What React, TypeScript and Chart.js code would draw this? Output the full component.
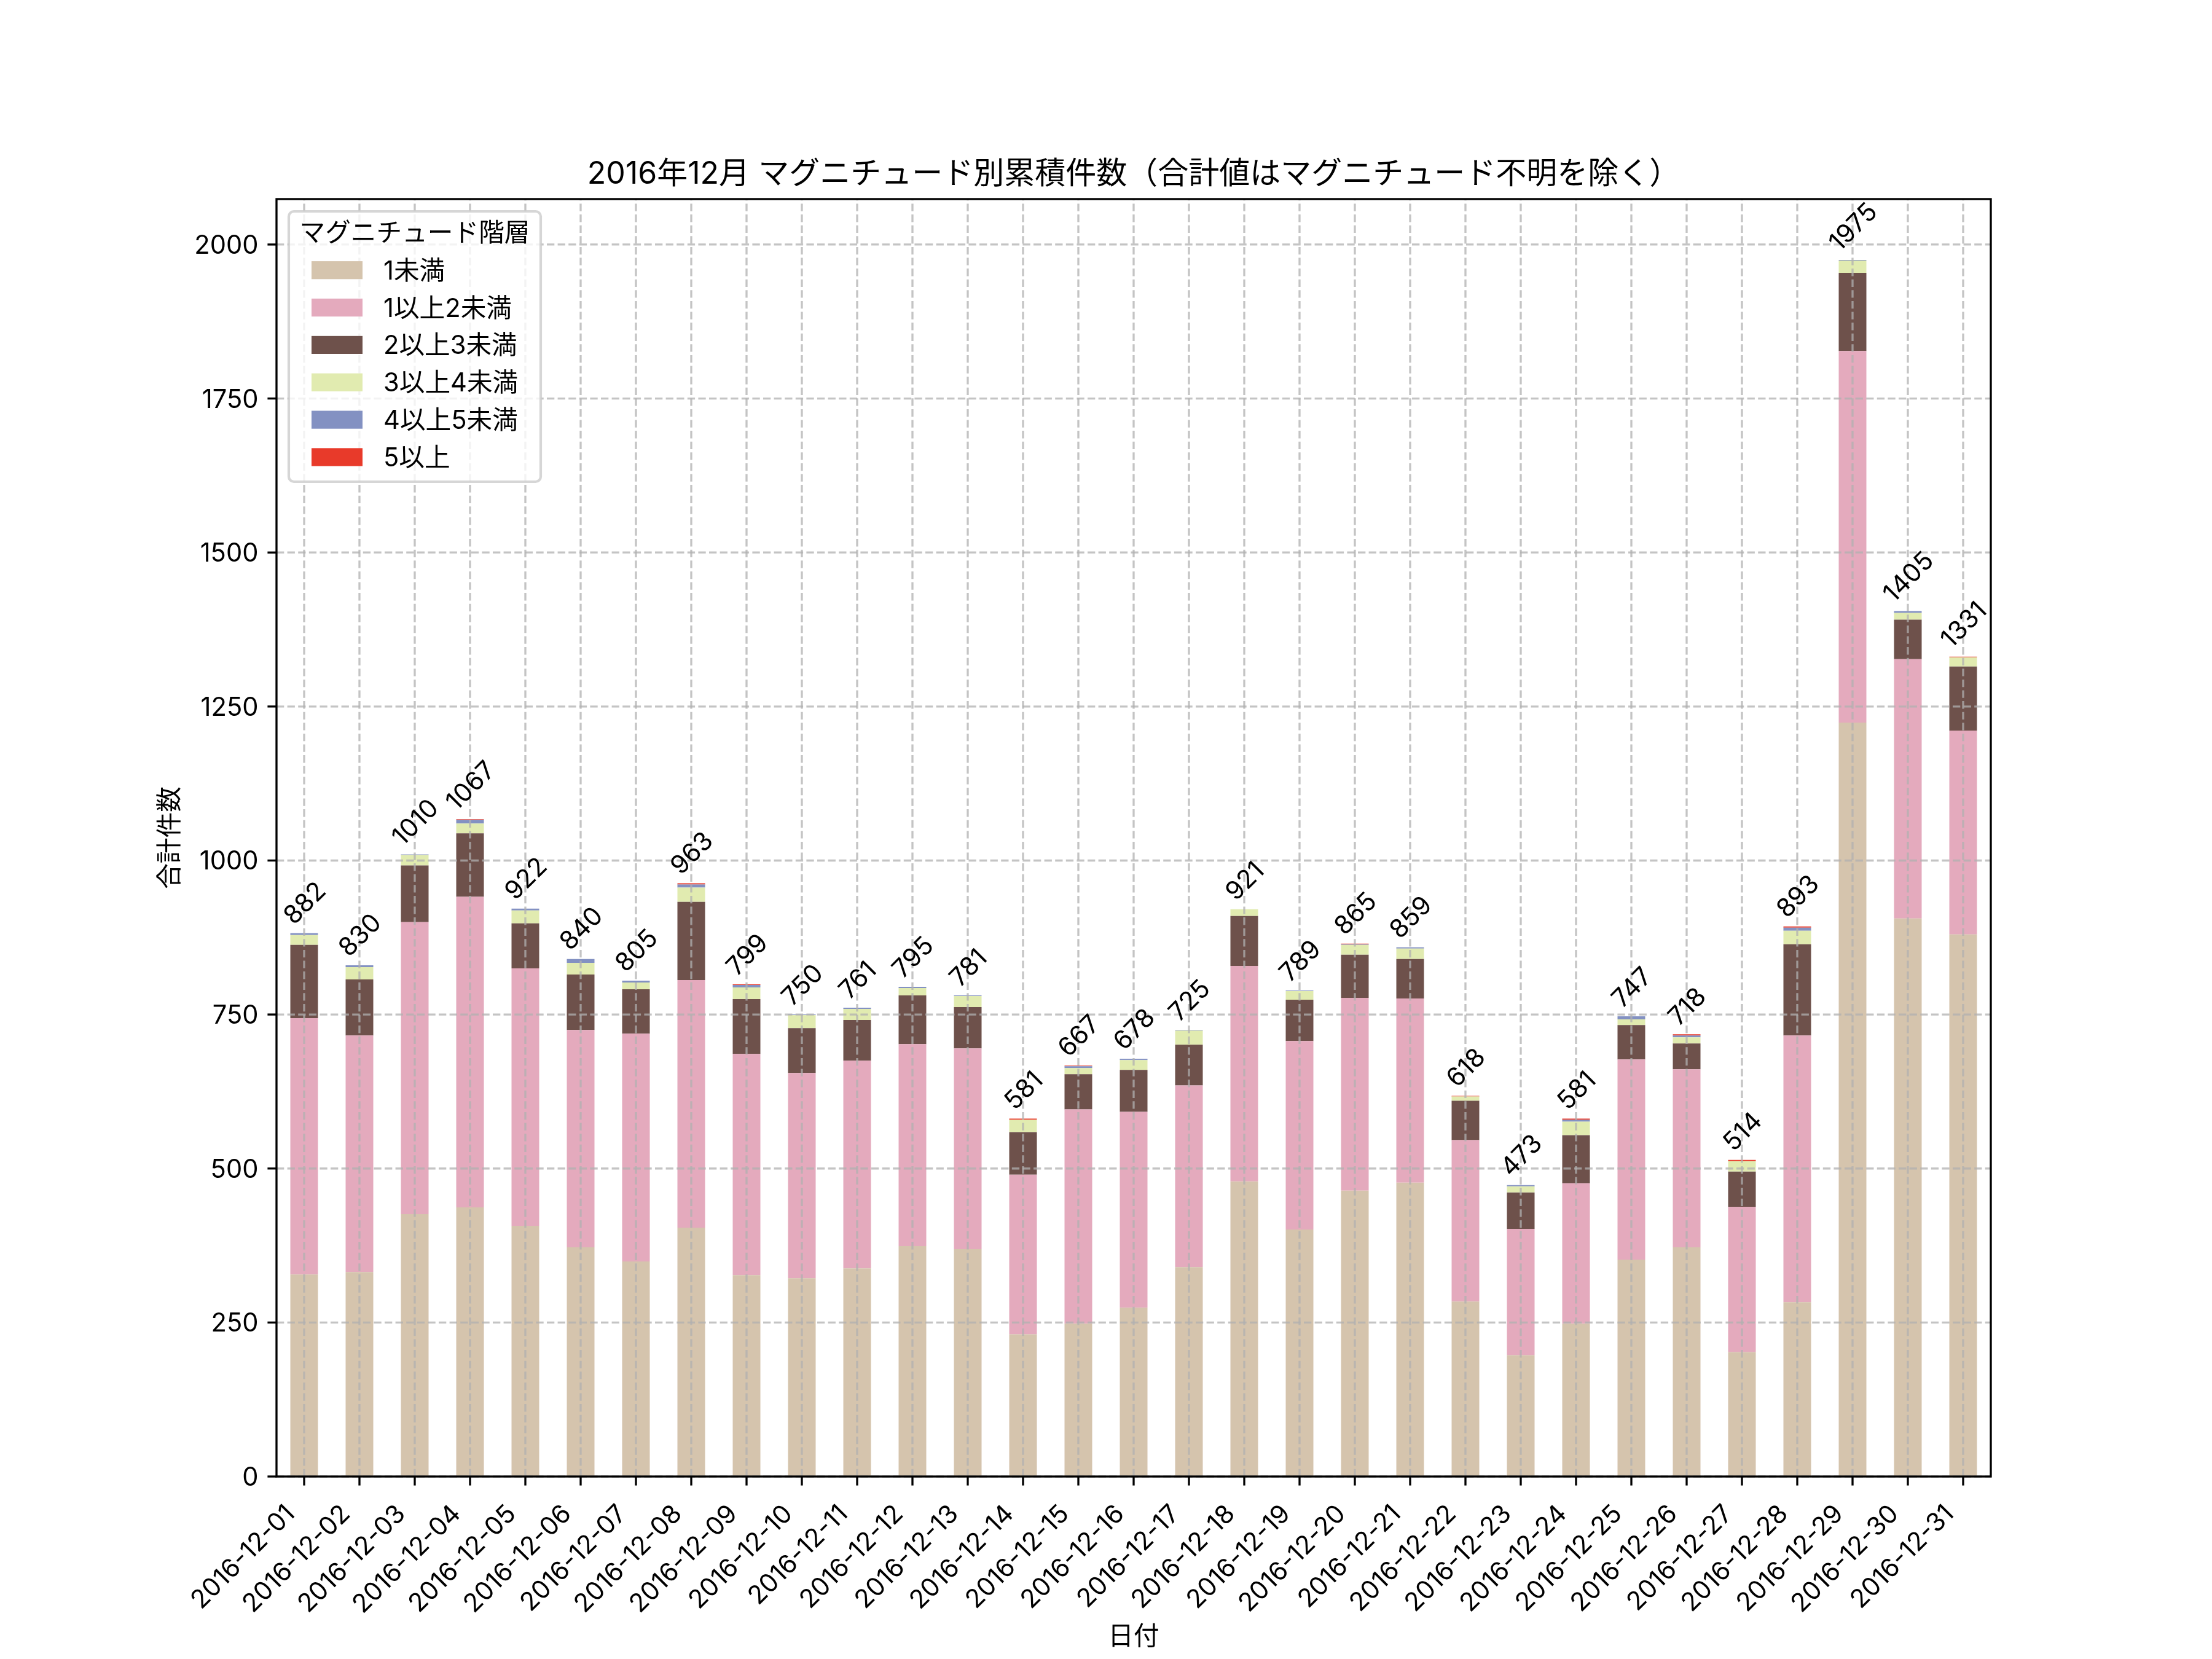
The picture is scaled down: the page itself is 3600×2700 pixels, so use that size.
import React, { useEffect, useRef } from "react";
import { Chart, registerables } from "chart.js";

Chart.register(...registerables);

// ---------------- data ----------------
const dates = [
  "2016-12-01", "2016-12-02", "2016-12-03", "2016-12-04", "2016-12-05", "2016-12-06", "2016-12-07", "2016-12-08",
  "2016-12-09", "2016-12-10", "2016-12-11", "2016-12-12", "2016-12-13", "2016-12-14", "2016-12-15", "2016-12-16",
  "2016-12-17", "2016-12-18", "2016-12-19", "2016-12-20", "2016-12-21", "2016-12-22", "2016-12-23", "2016-12-24",
  "2016-12-25", "2016-12-26", "2016-12-27", "2016-12-28", "2016-12-29", "2016-12-30", "2016-12-31",
];

const magLt1 = [328, 332, 426, 437, 407, 372, 349, 404, 327, 322, 338, 374, 369, 231, 248, 274, 340, 479, 401, 464, 477, 284, 197, 248, 352, 372, 202, 283, 1224, 906, 880];
const mag1to2 = [416, 384, 474, 504, 418, 353, 370, 402, 359, 333, 337, 328, 326, 259, 348, 318, 295, 350, 306, 313, 299, 262, 205, 228, 325, 289, 236, 433, 603, 421, 331];
const mag2to3 = [119, 91, 92, 103, 73, 90, 72, 127, 89, 73, 66, 79, 67, 69, 57, 68, 66, 81, 67, 70, 64, 64, 59, 78, 56, 42, 57, 148, 127, 64, 104];
const mag3to4 = [16, 20, 17, 16, 21, 19, 11, 23, 19, 21, 18, 12, 18, 20, 10, 16, 23, 11, 14, 16, 17, 7, 10, 22, 9, 10, 17, 22, 20, 11, 15];
const mag4to5 = [3, 3, 1, 6, 3, 6, 3, 5, 4, 1, 2, 2, 1, 0, 3, 2, 1, 0, 1, 1, 2, 0, 2, 3, 5, 3, 0, 5, 1, 3, 0];
const mag5up = [0, 0, 0, 1, 0, 0, 0, 2, 1, 0, 0, 0, 0, 2, 1, 0, 0, 0, 0, 1, 0, 1, 0, 2, 0, 2, 2, 2, 0, 0, 1];

const seriesNames = ["1未満", "1以上2未満", "2以上3未満", "3以上4未満", "4以上5未満", "5以上"];
const seriesColors = ["#d5c4ad", "#e4aabd", "#6e514b", "#e1ebb0", "#8391c2", "#e83a2a"];
const yTickValues = [0, 250, 500, 750, 1000, 1250, 1500, 1750, 2000];
const yMax = 2073.75;

const titleText = "2016年12月 マグニチュード別累積件数（合計値はマグニチュード不明を除く）";
const xAxisLabel = "日付";
const yAxisLabel = "合計件数";
const legendTitle = "マグニチュード階層";

// ---------------- layout ----------------
const W = 3600;
const H = 2700;
const PLOT_L = 450;
const PLOT_R = 3240;
const PLOT_T = 324;
const PLOT_B = 2403;
const FONT = 'Inter, "Noto Sans CJK JP", "Noto Sans", sans-serif';
const FS = 41.67;
const LW = 3.33;

const allSeries = [magLt1, mag1to2, mag2to3, mag3to4, mag4to5, mag5up];

function line(ctx: CanvasRenderingContext2D, x1: number, y1: number, x2: number, y2: number) {
  ctx.beginPath();
  ctx.moveTo(x1, y1);
  ctx.lineTo(x2, y2);
  ctx.stroke();
}

function roundRect(ctx: CanvasRenderingContext2D, x: number, y: number, w: number, h: number, r: number) {
  ctx.beginPath();
  ctx.moveTo(x + r, y);
  ctx.lineTo(x + w - r, y);
  ctx.arcTo(x + w, y, x + w, y + r, r);
  ctx.lineTo(x + w, y + h - r);
  ctx.arcTo(x + w, y + h, x + w - r, y + h, r);
  ctx.lineTo(x + r, y + h);
  ctx.arcTo(x, y + h, x, y + h - r, r);
  ctx.lineTo(x, y + r);
  ctx.arcTo(x, y, x + r, y, r);
  ctx.closePath();
}

const overlayPlugin = {
  id: "overlay",
  afterDatasetsDraw(chart: any) {
    const ctx: CanvasRenderingContext2D = chart.ctx;
    const xs = chart.scales.x;
    const ys = chart.scales.y;
    const ca = chart.chartArea;
    ctx.save();

    // grid (drawn above bars, like the reference)
    ctx.strokeStyle = "rgba(176,176,176,0.75)";
    ctx.lineWidth = LW;
    ctx.setLineDash([12.3, 5.3]);
    for (const v of yTickValues) {
      const py = ys.getPixelForValue(v);
      line(ctx, ca.left, py, ca.right, py);
    }
    for (let i = 0; i < dates.length; i++) {
      const px = xs.getPixelForValue(i);
      line(ctx, px, ca.bottom, px, ca.top);
    }
    ctx.setLineDash([]);

    // spines
    ctx.strokeStyle = "#000";
    ctx.lineWidth = LW;
    ctx.strokeRect(ca.left, ca.top, ca.right - ca.left, ca.bottom - ca.top);

    // ticks
    for (const v of yTickValues) {
      const py = ys.getPixelForValue(v);
      line(ctx, ca.left, py, ca.left - 14.6, py);
    }
    for (let i = 0; i < dates.length; i++) {
      const px = xs.getPixelForValue(i);
      line(ctx, px, ca.bottom, px, ca.bottom + 14.6);
    }

    ctx.fillStyle = "#000";
    ctx.font = `${FS}px ${FONT}`;

    // y tick labels
    ctx.textAlign = "right";
    ctx.textBaseline = "alphabetic";
    for (const v of yTickValues) {
      const py = ys.getPixelForValue(v);
      ctx.fillText(String(v), ca.left - 29.5, py + 15);
    }

    // x tick labels (rotated 45°)
    for (let i = 0; i < dates.length; i++) {
      const px = xs.getPixelForValue(i);
      ctx.save();
      ctx.translate(px - 13, ca.bottom + 63);
      ctx.rotate(-Math.PI / 4);
      ctx.textAlign = "right";
      ctx.textBaseline = "alphabetic";
      ctx.fillText(dates[i], 0, 0);
      ctx.restore();
    }

    // total labels above bars
    for (let i = 0; i < dates.length; i++) {
      let total = 0;
      for (const s of allSeries) total += s[i];
      const px = xs.getPixelForValue(i);
      const py = ys.getPixelForValue(total);
      const txt = String(total);
      const w = ctx.measureText(txt).width;
      const gh = 30;
      const bb = (w + gh) * Math.SQRT1_2;
      ctx.save();
      ctx.translate(px, py - 12 - bb / 2);
      ctx.rotate(-Math.PI / 4);
      ctx.textAlign = "center";
      ctx.textBaseline = "alphabetic";
      ctx.fillText(txt, 0, gh / 2);
      ctx.restore();
    }

    // axis labels
    ctx.textAlign = "center";
    ctx.textBaseline = "middle";
    ctx.fillText(xAxisLabel, (ca.left + ca.right) / 2, 2664);
    ctx.save();
    ctx.translate(277, (ca.top + ca.bottom) / 2);
    ctx.rotate(-Math.PI / 2);
    ctx.fillText(yAxisLabel, 0, 0);
    ctx.restore();

    // title
    ctx.font = `50px ${FONT}`;
    ctx.textAlign = "center";
    ctx.textBaseline = "alphabetic";
    ctx.fillText(titleText, (ca.left + ca.right) / 2, ca.top - 25);

    // legend
    const lx = 470, ly = 344, lw = 410, lh = 440;
    roundRect(ctx, lx, ly, lw, lh, 8.3);
    ctx.fillStyle = "rgba(255,255,255,0.8)";
    ctx.fill();
    ctx.strokeStyle = "rgba(204,204,204,0.8)";
    ctx.lineWidth = 4.17;
    ctx.stroke();

    ctx.fillStyle = "#000";
    ctx.font = `${FS}px ${FONT}`;
    ctx.textAlign = "center";
    ctx.textBaseline = "alphabetic";
    ctx.fillText(legendTitle, lx + lw / 2, 378 + 15);

    ctx.textAlign = "left";
    for (let k = 0; k < seriesNames.length; k++) {
      const cy = 439.7 + k * 60.85;
      ctx.fillStyle = seriesColors[k];
      ctx.fillRect(507, cy - 14.6, 83, 29.2);
      ctx.fillStyle = "#000";
      ctx.fillText(seriesNames[k], 624, cy + 15);
    }

    ctx.restore();
  },
};

export default function App() {
  const canvasRef = useRef<HTMLCanvasElement | null>(null);

  useEffect(() => {
    document.body.style.margin = "0";
    const canvas = canvasRef.current;
    if (!canvas) return;
    const chart = new Chart(canvas, {
      type: "bar",
      data: {
        labels: dates,
        datasets: allSeries.map((d, i) => ({
          label: seriesNames[i],
          data: d,
          backgroundColor: seriesColors[i],
          borderWidth: 0,
          barPercentage: 0.5,
          categoryPercentage: 1.0,
        })),
      },
      options: {
        animation: false,
        responsive: false,
        devicePixelRatio: 1,
        events: [],
        layout: { padding: { left: PLOT_L, top: PLOT_T, right: W - PLOT_R, bottom: H - PLOT_B } },
        scales: {
          x: { stacked: true, display: false, offset: true },
          y: { stacked: true, display: false, min: 0, max: yMax },
        },
        plugins: {
          legend: { display: false },
          title: { display: false },
          tooltip: { enabled: false },
        },
      },
      plugins: [overlayPlugin],
    } as any);
    return () => chart.destroy();
  }, []);

  return (
    <div style={{ position: "absolute", left: 0, top: 0, width: W, height: H, background: "#fff" }}>
      <canvas ref={canvasRef} width={W} height={H} style={{ display: "block", width: W, height: H }} />
    </div>
  );
}
